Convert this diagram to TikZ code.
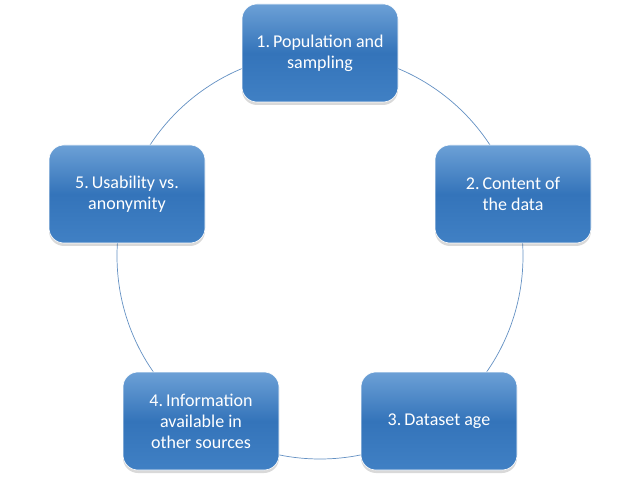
\documentclass[tikz,border=0pt]{standalone}
\usepackage{fontspec}
\setmainfont{Carlito}
\usetikzlibrary{shadows}
\definecolor{boxtop}{RGB}{108,160,214}
\definecolor{boxmid}{RGB}{52,116,186}
\definecolor{boxbot}{RGB}{64,128,196}
\definecolor{ringcol}{RGB}{100,145,195}
\tikzset{
  stage/.style={draw=white, line width=0.6pt, rounded corners=15pt,
    minimum width=156pt, minimum height=98pt, align=center,
    top color=boxtop, bottom color=boxbot, middle color=boxmid,
    text=white, font=\fontsize{18}{21}\selectfont\frenchspacing,
    drop shadow={shadow xshift=0pt, shadow yshift=-3pt, opacity=0.15, fill=black}},
  ring/.style={draw=ringcol, line width=0.7pt}
}
\begin{document}
\begin{tikzpicture}[x=1pt,y=1pt]
\useasboundingbox (0,0) rectangle (640,480);
\coordinate (c) at (320,224);
\draw[ring] (c) circle (203);
\node[stage] (n1) at (320,427) {1.\,Population and\\sampling};
\node[stage] (n2) at (513,286) {2.\,Content of\\the data};
\node[stage] (n3) at (439,59) {3.\,Dataset age};
\node[stage] (n4) at (201,59) {4.\,Information\\available in\\other sources};
\node[stage] (n5) at (127,286) {5.\,Usability vs.\\anonymity};
\end{tikzpicture}
\end{document}
